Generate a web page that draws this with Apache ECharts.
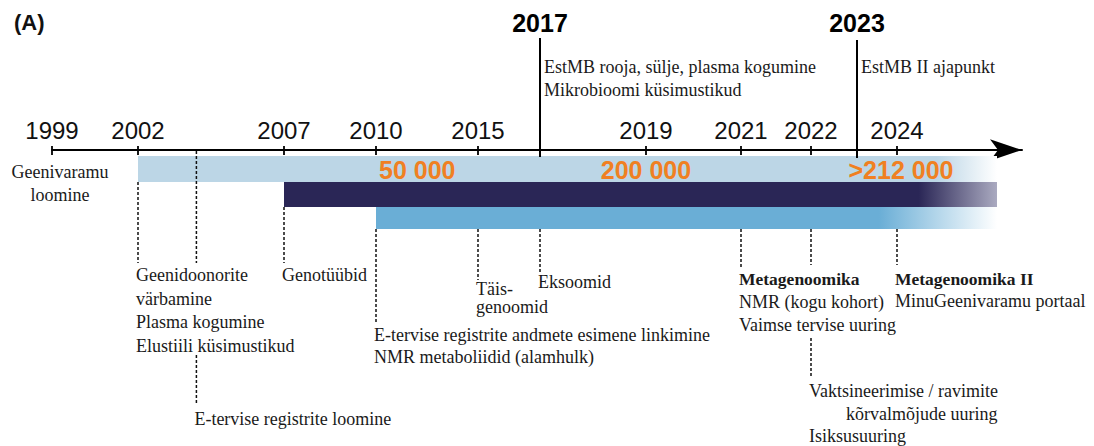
<!DOCTYPE html>
<html>
<head>
<meta charset="utf-8">
<script src="https://cdn.jsdelivr.net/npm/echarts@6/dist/echarts.min.js"></script>
<style>
  html, body { margin: 0; padding: 0; background: #fff; }
  #chart { width: 1094px; height: 446px; }
</style>
</head>
<body>
<div id="chart"></div>
<script>
// --- data ---
const tickYears = [1999, 2002, 2007, 2010, 2015, 2019, 2021, 2022, 2024]
const keyYears = [2017, 2023]
const keyNotes = [
  ['EstMB rooja, sülje, plasma kogumine', 'Mikrobioomi küsimustikud'],
  ['EstMB II ajapunkt']
]
const startYear = 1999
const startNote = ['Geenivaramu', 'loomine']
// cohort bars (start year, open end)
const barStart = [2002, 2007, 2010]
const barEnd = [2026.5, 2026.5, 2026.5]
// participants count
const countYears = [2010, 2019, 2024]
const countLabels = ['50 000', '200 000', '>212 000']
// events under the bars
const eventYears = [2002, 2004, 2007, 2010, 2015, 2017, 2021, 2022, 2024]
const eventTexts = [
  ['Geenidoonorite', 'värbamine', 'Plasma kogumine', 'Elustiili küsimustikud'],
  ['E-tervise registrite loomine'],
  ['Genotüübid'],
  ['E-tervise registrite andmete esimene linkimine', 'NMR metaboliidid (alamhulk)'],
  ['Täis-', 'genoomid'],
  ['Eksoomid'],
  ['**Metagenoomika', 'NMR (kogu kohort)', 'Vaimse tervise uuring'],
  ['Vaktsineerimise / ravimite', 'kõrvalmõjude uuring', 'Isiksusuuring'],
  ['**Metagenoomika II', 'MinuGeenivaramu portaal']
]

// --- timeline scale (not linear in years) ---
const scaleYears = [1999, 2002, 2007, 2010, 2015, 2017, 2019, 2021, 2022, 2023, 2024]
const scalePos = [0, 86, 232, 324, 426, 488, 594, 689, 759, 805, 845]
const yearToPos = y => {
  let k = scaleYears.findIndex(v => v >= y)
  if (k === 0) return scalePos[0]
  if (k < 0) k = scaleYears.length - 1
  const y0 = scaleYears[k - 1], y1 = scaleYears[k]
  return scalePos[k - 1] + (y - y0) * (scalePos[k] - scalePos[k - 1]) / (y1 - y0)
}

// --- layout ---
const AXIS_Y = 150
const barRows = [[156, 182], [182, 207], [207, 229]]
const barColors = [
  [[0, '#bcd6e6'], [0.93, '#bcd6e6'], [1, '#ffffff']],
  [[0, '#2a2656'], [0.89, '#2a2656'], [1, '#aaaac0']],
  [[0, '#6aaed6'], [0.81, '#6aaed6'], [1, '#ffffff']]
]
const eventLinks = [
  [[182, 263]],
  [[151, 263], [355, 405]],
  [[207, 263]],
  [[229, 322]],
  [[229, 280]],
  [[229, 273]],
  [[229, 267]],
  [[229, 265], [338, 377]],
  [[229, 265]]
]
const eventTextY = [275, 419, 275, 335, 289, 282, 279, 391, 279]
const eventGap = [23.5, 23, 23, 22, 18, 23, 23, 22.5, 22]
const eventIndent = { 7: [0, 37, 0] }
const countAlign = ['left', 'center', 'center']
const countShift = [3, 0, 4]

const SERIF = 'Liberation Serif, Times New Roman, serif'
const SANS = 'Liberation Sans, Arial, sans-serif'
const dash = { stroke: '#111', lineWidth: 1.5, lineDash: [3, 2] }

const chart = echarts.init(document.getElementById('chart'), null, { renderer: 'svg' })

const vline = (api, pos, a, b, style) => {
  const x = api.coord([pos, 0])[0]
  return { type: 'line', shape: { x1: x, y1: api.coord([0, a])[1], x2: x, y2: api.coord([0, b])[1] }, style }
}
const txt = (x, y, text, o) => ({
  type: 'text',
  style: Object.assign({ x, y, text, fill: '#1a1a1a', fontFamily: SERIF, fontSize: 18, align: 'left', verticalAlign: 'middle' }, o)
})

const option = {
  animation: false,
  grid: { left: 52, right: 72, top: 0, bottom: 0 },
  xAxis: {
    type: 'value', min: 0, max: 970, position: 'top', offset: -AXIS_Y,
    splitLine: { show: false },
    axisLine: { onZero: false, lineStyle: { color: '#000', width: 2 }, symbol: ['none', 'arrow'], symbolSize: [16, 32] },
    axisTick: { show: false },
    axisLabel: {
      customValues: tickYears.map(yearToPos),
      formatter: v => tickYears.find(y => Math.abs(yearToPos(y) - v) < 0.5),
      fontFamily: SANS, fontSize: 24, color: '#111', margin: 8
    }
  },
  yAxis: { type: 'value', min: 0, max: 446, inverse: true, show: false },
  graphic: [{ type: 'text', left: 14, top: 11, style: { text: '(A)', font: 'bold 22px ' + SANS, fill: '#111' } }],
  series: [
    { // cohort bars
      type: 'custom', clip: false, silent: true,
      data: barStart.map((s, i) => [yearToPos(s), yearToPos(barEnd[i]), i]),
      renderItem: (params, api) => {
        const i = api.value(2)
        const p0 = api.coord([api.value(0), barRows[i][0]])
        const p1 = api.coord([api.value(1), barRows[i][1]])
        return {
          type: 'rect',
          shape: { x: p0[0], y: p0[1], width: p1[0] - p0[0], height: p1[1] - p0[1] },
          style: {
            fill: new echarts.graphic.LinearGradient(0, 0, 1, 0, barColors[i].map(([o, c]) => ({ offset: o, color: c })))
          }
        }
      }
    },
    { // axis ticks
      type: 'custom', clip: false, silent: true,
      data: tickYears.map(y => [yearToPos(y)]),
      renderItem: (params, api) => vline(api, api.value(0), AXIS_Y - 4, AXIS_Y + 5, { stroke: '#000', lineWidth: 1.8 })
    },
    { // key years with vertical lines
      type: 'custom', clip: false, silent: true,
      data: keyYears.map(y => [yearToPos(y)]),
      renderItem: (params, api) => {
        const i = params.dataIndex
        const x = api.coord([api.value(0), 0])[0]
        const children = [
          vline(api, api.value(0), 38 + i * 2, 157 + i, { stroke: '#000', lineWidth: 2 }),
          txt(x, 23, String(keyYears[i]), { fontFamily: SANS, fontSize: 25, fontWeight: 'bold', align: 'center', fill: '#000' })
        ]
        keyNotes[i].forEach((t, k) => children.push(txt(x + 4, 67 + k * 23, t)))
        return { type: 'group', children }
      }
    },
    { // start note
      type: 'custom', clip: false, silent: true,
      data: [[yearToPos(startYear)]],
      renderItem: (params, api) => {
        const x = api.coord([api.value(0), 0])[0] + 8
        return { type: 'group', children: startNote.map((t, k) => txt(x, 172 + k * 23, t, { align: 'center' })) }
      }
    },
    { // events with dashed connectors
      type: 'custom', clip: false, silent: true,
      data: eventYears.map(y => [yearToPos(y)]),
      renderItem: (params, api) => {
        const i = params.dataIndex
        const x = api.coord([api.value(0), 0])[0]
        const children = eventLinks[i].map(([a, b]) => vline(api, api.value(0), a, b, dash))
        eventTexts[i].forEach((t, k) => {
          const bold = t.startsWith('**')
          const ind = eventIndent[i] ? eventIndent[i][k] : 0
          children.push(txt(x - 2 + ind, eventTextY[i] + k * eventGap[i], bold ? t.slice(2) : t,
            bold ? { fontWeight: 'bold', fontSize: 17.5 } : {}))
        })
        return { type: 'group', children }
      }
    },
    { // participant counts
      type: 'custom', clip: false, silent: true,
      data: countYears.map(y => [yearToPos(y)]),
      renderItem: (params, api) => {
        const i = params.dataIndex
        const x = api.coord([api.value(0), 0])[0] + countShift[i]
        return txt(x, 170, countLabels[i], { fontFamily: SANS, fontSize: 25, fontWeight: 'bold', fill: '#f08022', align: countAlign[i] })
      }
    }
  ]
}
chart.setOption(option)
window.addEventListener('resize', () => chart.resize())
</script>
</body>
</html>
